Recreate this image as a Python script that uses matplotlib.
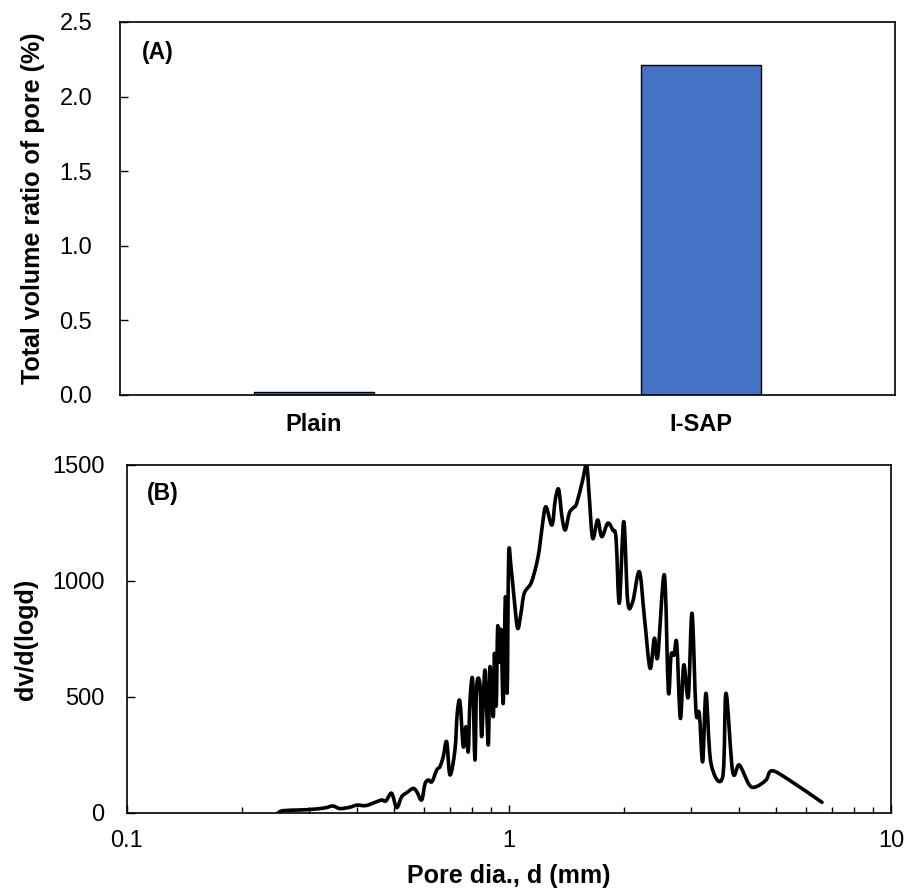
import numpy as np
import matplotlib
matplotlib.use("Agg")
import matplotlib.pyplot as plt
from matplotlib.path import Path
from matplotlib.patches import PathPatch
from matplotlib.ticker import LogLocator, FixedLocator, FuncFormatter

plt.rcParams['font.family'] = ['Liberation Sans', 'DejaVu Sans']

# ------------------------------------------------------------
# dati pannello (A): volume totale dei pori
# ------------------------------------------------------------
mix_names = ['Plain', 'I-SAP']
pore_ratio = [0.02, 2.21]

# ------------------------------------------------------------
# dati pannello (B): distribuzione dimensione pori
# ------------------------------------------------------------
pore_dia = [0.2488, 0.2565, 0.2841, 0.3073, 0.3303, 0.3466, 0.3615, 0.3839,
            0.4005, 0.4228, 0.4518, 0.4656, 0.4770, 0.4937, 0.5087, 0.5243,
            0.5413, 0.5623, 0.5750, 0.5915, 0.6034, 0.6155, 0.6294, 0.6475,
            0.6605, 0.6738, 0.6877, 0.7015, 0.7229, 0.7330, 0.7450, 0.7600,
            0.7724, 0.7832, 0.7913, 0.8043, 0.8155, 0.8239, 0.8407, 0.8493,
            0.8662, 0.8835, 0.8927, 0.9106, 0.9172, 0.9267, 0.9351, 0.9441,
            0.9538, 0.9671, 0.9800, 0.9901, 0.9991, 1.0131, 1.0334, 1.0548,
            1.0760, 1.0975, 1.1428, 1.1776, 1.2013, 1.2261, 1.2508, 1.2968,
            1.3229, 1.3503, 1.3775, 1.4051, 1.4394, 1.4692, 1.5050, 1.5604,
            1.5984, 1.6237, 1.6573, 1.7080, 1.7507, 1.8151, 1.8706, 1.9082,
            1.9465, 1.9988, 2.0476, 2.1102, 2.1959, 2.2631, 2.3422, 2.4038,
            2.4535, 2.5532, 2.6155, 2.6584, 2.7069, 2.7513, 2.8116, 2.8698,
            2.9493, 3.0157, 3.0892, 3.1513, 3.2165, 3.2811, 3.3814, 3.6284,
            3.7013, 3.8538, 4.0101, 4.2590, 4.4343, 4.7097, 4.8829, 5.4185,
            6.6000]
dv_dlogd = [0, 10, 13, 16, 22, 30, 19, 25,
            34, 32, 49, 56, 52, 85, 23, 70,
            88, 106, 90, 56, 125, 142, 135, 185,
            200, 243, 307, 164, 272, 430, 480, 286,
            372, 264, 480, 573, 228, 544, 552, 329,
            616, 293, 630, 415, 688, 460, 803, 650,
            789, 473, 932, 516, 1106, 1063, 918, 796,
            861, 947, 990, 1062, 1134, 1249, 1320, 1241,
            1349, 1395, 1277, 1220, 1292, 1313, 1334, 1435,
            1500, 1363, 1184, 1263, 1191, 1249, 1220, 1184,
            904, 1256, 911, 911, 1040, 846, 624, 753,
            674, 1026, 523, 681, 681, 731, 408, 638,
            501, 861, 437, 430, 221, 516, 214, 156,
            516, 178, 207, 121, 113, 142, 182, 142,
            46]

bar_color = '#4472C4'
label_kw = dict(fontsize=18, fontweight='bold')


def smooth_path(x, y):
    """Linea 'smussata' tipo Excel (Catmull-Rom -> Bezier) in spazio log(x)."""
    u = np.log10(np.asarray(x, float))
    v = np.asarray(y, float)
    pts = np.column_stack([u, v])
    n = len(pts)
    verts = [pts[0]]
    codes = [Path.MOVETO]
    for i in range(n - 1):
        p0 = pts[max(i - 1, 0)]
        p1 = pts[i]
        p2 = pts[i + 1]
        p3 = pts[min(i + 2, n - 1)]
        c1 = p1 + (p2 - p0) / 6.0
        c2 = p2 - (p3 - p1) / 6.0
        verts += [c1, c2, p2]
        codes += [Path.CURVE4] * 3
    verts = np.array(verts)
    verts[:, 0] = 10 ** verts[:, 0]
    return Path(verts, codes)


fig = plt.figure(figsize=(9.12, 8.93), dpi=100)

# ------------------------------------------------------------
# (A) barre
# ------------------------------------------------------------
axA = fig.add_axes([0.1316, 0.5577, 0.8498, 0.4177])
xpos = np.arange(len(mix_names))
axA.bar(xpos, pore_ratio, width=0.31, color=bar_color,
        edgecolor='black', linewidth=1.0)
axA.set_xlim(-0.5, 1.5)
axA.set_ylim(0, 2.5)
axA.set_yticks(np.arange(0, 2.51, 0.5))
axA.yaxis.set_major_formatter(FuncFormatter(lambda v, p: f"{v:.1f}"))
axA.set_xticks(xpos)
axA.set_xticklabels(mix_names, fontsize=17, fontweight='bold')
axA.tick_params(axis='x', length=0, pad=13)
axA.tick_params(axis='y', direction='in', length=6, width=1.0,
                labelsize=17, pad=20)
axA.set_ylabel('Total volume ratio of pore (%)', **label_kw)
axA.yaxis.set_label_coords(-0.097, 0.5)
axA.text(0.028, 0.95, '(A)', transform=axA.transAxes, ha='left', va='top',
         fontsize=16.5, fontweight='bold')
for s in axA.spines.values():
    s.set_linewidth(1.2)

# ------------------------------------------------------------
# (B) distribuzione
# ------------------------------------------------------------
axB = fig.add_axes([0.1389, 0.0896, 0.838, 0.3897])
axB.set_xscale('log')
axB.set_xlim(0.1, 10)
axB.set_ylim(0, 1500)
curve = PathPatch(smooth_path(pore_dia, dv_dlogd), facecolor='none',
                  edgecolor='black', linewidth=2.6, joinstyle='round',
                  capstyle='round')
axB.add_patch(curve)
axB.set_yticks([0, 500, 1000, 1500])
axB.xaxis.set_major_locator(FixedLocator([0.1, 1, 10]))
axB.xaxis.set_minor_locator(LogLocator(base=10, subs=np.arange(2, 10)))
axB.xaxis.set_major_formatter(FuncFormatter(lambda v, p: f"{v:g}"))
axB.xaxis.set_minor_formatter(FuncFormatter(lambda v, p: ""))
axB.tick_params(axis='x', which='major', direction='in', length=6,
                width=1.0, labelsize=17, pad=12)
axB.tick_params(axis='x', which='minor', direction='in', length=4, width=1.0)
axB.tick_params(axis='y', direction='in', length=6, width=1.0,
                labelsize=17, pad=16)
axB.set_xlabel('Pore dia., d (mm)', labelpad=9, **label_kw)
axB.set_ylabel('dv/d(logd)', **label_kw)
axB.yaxis.set_label_coords(-0.116, 0.5)
axB.text(0.027, 0.95, '(B)', transform=axB.transAxes, ha='left', va='top',
         fontsize=16.5, fontweight='bold')
for s in axB.spines.values():
    s.set_linewidth(1.2)

fig.savefig('out.png', dpi=100)
plt.close(fig)
